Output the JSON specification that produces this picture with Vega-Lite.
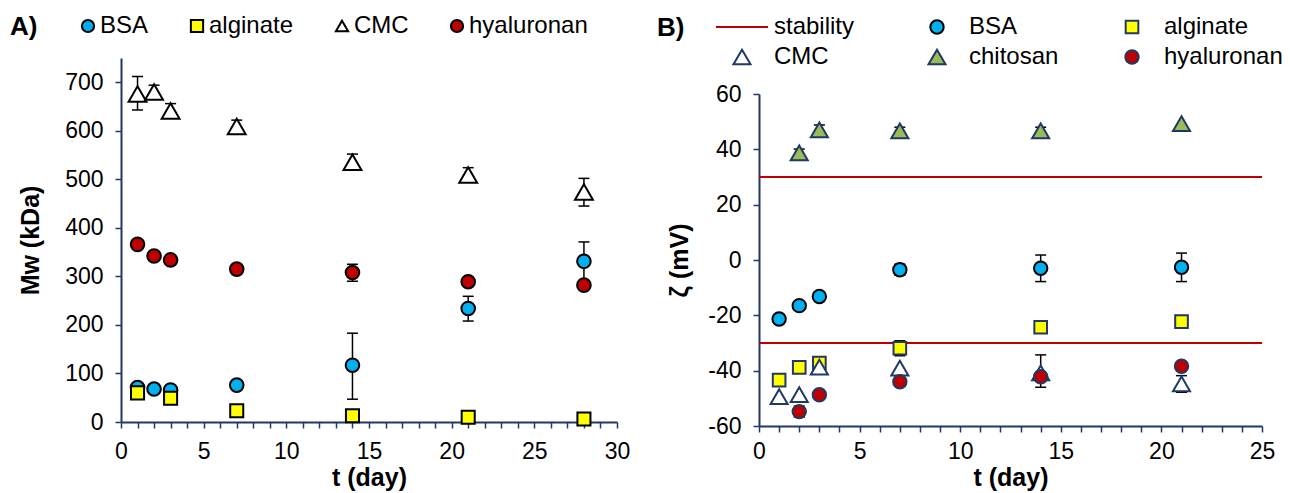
{
  "$schema": "https://vega.github.io/schema/vega-lite/v6.json",
  "background": "white",
  "padding": {"left": 10, "top": 14, "right": 3, "bottom": 2},
  "bounds": "flush",
  "spacing": 142,
  "config": {
    "view": {"stroke": null},
    "font": "Liberation Sans",
    "axis": {"domainColor": "#1F3864", "domainWidth": 2, "tickColor": "#1F3864", "tickWidth": 1.5, "tickSize": 6,
      "labelFont": "Liberation Sans", "labelFontSize": 23, "labelColor": "black", "labelPadding": 12,
      "titleFont": "Liberation Sans", "titleFontSize": 25, "titleFontWeight": "bold", "titleColor": "black",
      "grid": false, "labelOverlap": false, "labelBound": false, "labelFlush": false},
    "legend": {"labelFont": "Liberation Sans", "labelFontSize": 24, "labelColor": "black",
      "titleFont": "Liberation Sans", "titleFontSize": 26, "titleFontWeight": "bold", "titleColor": "black",
      "symbolStrokeWidth": 2}
  },
  "resolve": {
    "scale": {"fill": "independent", "stroke": "independent", "shape": "independent", "size": "independent"},
    "legend": {"fill": "independent", "stroke": "independent", "shape": "independent", "size": "independent"}
  },
  "hconcat": [
    {
      "width": 496,
      "height": 364,
      "data": {"values": [
        {"polymer": "BSA", "day": 1, "mw": 71},
        {"polymer": "BSA", "day": 2, "mw": 68},
        {"polymer": "BSA", "day": 3, "mw": 66},
        {"polymer": "BSA", "day": 7, "mw": 76},
        {"polymer": "BSA", "day": 14, "mw": 117, "lo": 47, "hi": 183},
        {"polymer": "BSA", "day": 21, "mw": 234, "lo": 208, "hi": 259},
        {"polymer": "BSA", "day": 28, "mw": 331, "lo": 291, "hi": 371},
        {"polymer": "alginate", "day": 1, "mw": 60},
        {"polymer": "alginate", "day": 3, "mw": 49},
        {"polymer": "alginate", "day": 7, "mw": 23},
        {"polymer": "alginate", "day": 14, "mw": 13},
        {"polymer": "alginate", "day": 21, "mw": 10},
        {"polymer": "alginate", "day": 28, "mw": 6},
        {"polymer": "CMC", "day": 1, "mw": 676, "lo": 643, "hi": 712},
        {"polymer": "CMC", "day": 2, "mw": 680, "lo": 668, "hi": 694},
        {"polymer": "CMC", "day": 3, "mw": 641, "lo": 627, "hi": 656},
        {"polymer": "CMC", "day": 7, "mw": 609, "lo": 598, "hi": 622},
        {"polymer": "CMC", "day": 14, "mw": 535, "lo": 519, "hi": 552},
        {"polymer": "CMC", "day": 21, "mw": 509, "lo": 495, "hi": 524},
        {"polymer": "CMC", "day": 28, "mw": 474, "lo": 445, "hi": 502},
        {"polymer": "hyaluronan", "day": 1, "mw": 366},
        {"polymer": "hyaluronan", "day": 2, "mw": 342},
        {"polymer": "hyaluronan", "day": 3, "mw": 334},
        {"polymer": "hyaluronan", "day": 7, "mw": 315},
        {"polymer": "hyaluronan", "day": 14, "mw": 308, "lo": 290, "hi": 325},
        {"polymer": "hyaluronan", "day": 21, "mw": 289},
        {"polymer": "hyaluronan", "day": 28, "mw": 282}
      ]},
      "encoding": {
        "x": {"field": "day", "type": "quantitative",
          "scale": {"domain": [0, 30], "nice": false, "zero": false},
          "axis": {"title": "t (day)", "titlePadding": 2, "labelOverlap": false,
            "values": [0,1,2,3,4,5,6,7,8,9,10,11,12,13,14,15,16,17,18,19,20,21,22,23,24,25,26,27,28,29,30],
            "labelExpr": "datum.value % 5 === 0 ? datum.label : ''"}}
      },
      "layer": [
        {
          "transform": [{"filter": "isValid(datum.lo)"}],
          "mark": {"type": "rule", "color": "black", "strokeWidth": 1.5},
          "encoding": {
            "y": {"field": "lo", "type": "quantitative",
              "scale": {"domain": [0, 750], "nice": false},
              "axis": {"title": "Mw (kDa)", "titlePadding": 21, "labelOverlap": false,
                "values": [0,25,50,75,100,125,150,175,200,225,250,275,300,325,350,375,400,425,450,475,500,525,550,575,600,625,650,675,700,725,750],
                "labelExpr": "datum.value % 100 === 0 ? datum.label : ''"}},
            "y2": {"field": "hi"}
          }
        },
        {
          "transform": [{"filter": "isValid(datum.lo)"}],
          "mark": {"type": "tick", "orient": "horizontal", "color": "black", "thickness": 1.5, "size": 11, "opacity": 1},
          "encoding": {
            "y": {"field": "lo", "type": "quantitative"}
          }
        },
        {
          "transform": [{"filter": "isValid(datum.hi)"}],
          "mark": {"type": "tick", "orient": "horizontal", "color": "black", "thickness": 1.5, "size": 11, "opacity": 1},
          "encoding": {
            "y": {"field": "hi", "type": "quantitative"}
          }
        },
        {
          "mark": {"type": "point", "filled": true, "opacity": 1, "strokeWidth": 2},
          "encoding": {
            "y": {"field": "mw", "type": "quantitative"},
            "fill": {"field": "polymer", "type": "nominal",
              "scale": {"domain": ["BSA", "alginate", "CMC", "hyaluronan"], "range": ["#00B0F0", "#FFFF00", "#FFFFFF", "#C00000"]},
              "legend": {"orient": "none", "title": "A)", "titleOrient": "left", "titleAnchor": "start", "titlePadding": 38,
                "direction": "horizontal", "columns": 4, "gridAlign": "each", "columnPadding": 36,
                "labelOffset": 0, "symbolSize": 150, "legendX": -111, "legendY": -44}},
            "stroke": {"field": "polymer", "type": "nominal",
              "scale": {"domain": ["BSA", "alginate", "CMC", "hyaluronan"], "range": ["#000000", "#000000", "#000000", "#000000"]},
              "legend": {"orient": "none", "title": "A)", "titleOrient": "left", "titleAnchor": "start", "titlePadding": 38,
                "direction": "horizontal", "columns": 4, "gridAlign": "each", "columnPadding": 36,
                "labelOffset": 0, "symbolSize": 150, "legendX": -111, "legendY": -44}},
            "shape": {"field": "polymer", "type": "nominal",
              "scale": {"domain": ["BSA", "alginate", "CMC", "hyaluronan"], "range": ["circle", "square", "triangle-up", "circle"]},
              "legend": {"orient": "none", "title": "A)", "titleOrient": "left", "titleAnchor": "start", "titlePadding": 38,
                "direction": "horizontal", "columns": 4, "gridAlign": "each", "columnPadding": 36,
                "labelOffset": 0, "symbolSize": 150, "legendX": -111, "legendY": -44}},
            "size": {"field": "polymer", "type": "nominal", "legend": null,
              "scale": {"type": "ordinal", "domain": ["hyaluronan", "CMC", "alginate", "BSA"], "range": [185, 320, 170, 185]}}
          }
        }
      ]
    },
    {
      "width": 503,
      "height": 368,
      "encoding": {
        "x": {"field": "day", "type": "quantitative",
          "scale": {"domain": [0, 25], "nice": false, "zero": false},
          "axis": {"title": "t (day)", "titlePadding": 2, "labelOverlap": false, "labelPadding": 8,
            "values": [0,1,2,3,4,5,6,7,8,9,10,11,12,13,14,15,16,17,18,19,20,21,22,23,24,25],
            "labelExpr": "datum.value % 5 === 0 ? datum.label : ''"}}
      },
      "layer": [
        {
          "data": {"values": [{"level": 30}, {"level": -30}]},
          "mark": {"type": "rule", "color": "#C00000", "strokeWidth": 2},
          "encoding": {
            "x": null,
            "y": {"field": "level", "type": "quantitative",
              "scale": {"domain": [-60, 60], "nice": false, "zero": false, "range": [368, 36]},
              "axis": {"title": "ζ (mV)", "titlePadding": 15, "labelOverlap": false,
                "values": [-60,-55,-50,-45,-40,-35,-30,-25,-20,-15,-10,-5,0,5,10,15,20,25,30,35,40,45,50,55,60],
                "labelExpr": "datum.value % 20 === 0 ? replace(datum.label, '\u2212', '-') : ''"}}
          }
        },
        {
          "data": {"name": "zeta"},
          "transform": [{"filter": "isValid(datum.lo)"}],
          "mark": {"type": "rule", "color": "black", "strokeWidth": 1.5},
          "encoding": {
            "y": {"field": "lo", "type": "quantitative"},
            "y2": {"field": "hi"}
          }
        },
        {
          "data": {"name": "zeta"},
          "transform": [{"filter": "isValid(datum.lo)"}],
          "mark": {"type": "tick", "orient": "horizontal", "color": "black", "thickness": 1.5, "size": 11, "opacity": 1},
          "encoding": {
            "y": {"field": "lo", "type": "quantitative"}
          }
        },
        {
          "data": {"name": "zeta"},
          "transform": [{"filter": "isValid(datum.hi)"}],
          "mark": {"type": "tick", "orient": "horizontal", "color": "black", "thickness": 1.5, "size": 11, "opacity": 1},
          "encoding": {
            "y": {"field": "hi", "type": "quantitative"}
          }
        },
        {
          "data": {"name": "zeta"},
          "mark": {"type": "point", "filled": true, "opacity": 1, "strokeWidth": 2},
          "encoding": {
            "y": {"field": "zeta", "type": "quantitative"},
            "fill": {"field": "sample", "type": "nominal",
              "scale": {"domain": ["stability", "BSA", "alginate", "CMC", "chitosan", "hyaluronan"], "range": ["transparent", "#00B0F0", "#FFFF00", "#FFFFFF", "#9BBB59", "#C00000"]},
              "legend": {"orient": "none", "title": "B)", "titleOrient": "left", "titleAnchor": "start", "titlePadding": 30,
                "direction": "horizontal", "columns": 3, "gridAlign": "all", "columnPadding": 17, "rowPadding": 6,
                "labelOffset": 5, "clipHeight": 24, "legendX": -102, "legendY": -43}},
            "stroke": {"field": "sample", "type": "nominal",
              "scale": {"domain": ["stability", "BSA", "alginate", "CMC", "chitosan", "hyaluronan"], "range": ["#C00000", "#000000", "#1F3864", "#1F3864", "#1F3864", "#1F3864"]},
              "legend": {"orient": "none", "title": "B)", "titleOrient": "left", "titleAnchor": "start", "titlePadding": 30,
                "direction": "horizontal", "columns": 3, "gridAlign": "all", "columnPadding": 17, "rowPadding": 6,
                "labelOffset": 5, "clipHeight": 24, "legendX": -102, "legendY": -43}},
            "shape": {"field": "sample", "type": "nominal",
              "scale": {"domain": ["stability", "BSA", "alginate", "CMC", "chitosan", "hyaluronan"], "range": ["stroke", "circle", "square", "triangle-up", "triangle-up", "circle"]},
              "legend": {"orient": "none", "title": "B)", "titleOrient": "left", "titleAnchor": "start", "titlePadding": 30,
                "direction": "horizontal", "columns": 3, "gridAlign": "all", "columnPadding": 17, "rowPadding": 6,
                "labelOffset": 5, "clipHeight": 24, "legendX": -102, "legendY": -43}},
            "size": {"field": "sample", "type": "nominal",
              "scale": {"type": "ordinal", "domain": ["stability", "BSA", "alginate", "CMC", "chitosan", "hyaluronan"], "range": [2704, 180, 160, 290, 290, 180]},
              "legend": {"orient": "none", "title": "B)", "titleOrient": "left", "titleAnchor": "start", "titlePadding": 30,
                "direction": "horizontal", "columns": 3, "gridAlign": "all", "columnPadding": 17, "rowPadding": 6,
                "labelOffset": 5, "clipHeight": 24, "legendX": -102, "legendY": -43}}
          }
        }
      ]
    }
  ],
  "datasets": {
    "zeta": [
      {"sample": "BSA", "day": 1, "zeta": -21.3},
      {"sample": "BSA", "day": 2, "zeta": -16.5},
      {"sample": "BSA", "day": 3, "zeta": -13.2},
      {"sample": "BSA", "day": 7, "zeta": -3.5, "lo": -5.5, "hi": -1.5},
      {"sample": "BSA", "day": 14, "zeta": -3.0, "lo": -7.8, "hi": 1.8},
      {"sample": "BSA", "day": 21, "zeta": -2.6, "lo": -7.8, "hi": 2.5},
      {"sample": "alginate", "day": 1, "zeta": -43.4},
      {"sample": "alginate", "day": 2, "zeta": -38.8},
      {"sample": "alginate", "day": 3, "zeta": -37.3},
      {"sample": "alginate", "day": 7, "zeta": -31.9, "lo": -34.6, "hi": -29.2},
      {"sample": "alginate", "day": 14, "zeta": -24.3},
      {"sample": "alginate", "day": 21, "zeta": -22.3},
      {"sample": "CMC", "day": 1, "zeta": -49.4},
      {"sample": "CMC", "day": 2, "zeta": -48.7},
      {"sample": "CMC", "day": 3, "zeta": -38.7},
      {"sample": "CMC", "day": 7, "zeta": -39.1},
      {"sample": "CMC", "day": 14, "zeta": -40.8, "lo": -46.0, "hi": -34.3},
      {"sample": "CMC", "day": 21, "zeta": -44.8, "lo": -47.8, "hi": -41.8},
      {"sample": "chitosan", "day": 2, "zeta": 38.7, "lo": 37.3, "hi": 40.1},
      {"sample": "chitosan", "day": 3, "zeta": 47.0, "lo": 45.2, "hi": 48.8},
      {"sample": "chitosan", "day": 7, "zeta": 46.7, "lo": 45.4, "hi": 48.0},
      {"sample": "chitosan", "day": 14, "zeta": 46.7, "lo": 45.4, "hi": 48.0},
      {"sample": "chitosan", "day": 21, "zeta": 49.3},
      {"sample": "hyaluronan", "day": 2, "zeta": -54.8, "lo": -56.8, "hi": -52.8},
      {"sample": "hyaluronan", "day": 3, "zeta": -48.7},
      {"sample": "hyaluronan", "day": 7, "zeta": -44.0},
      {"sample": "hyaluronan", "day": 14, "zeta": -42.2},
      {"sample": "hyaluronan", "day": 21, "zeta": -38.4}
    ]
  }
}
